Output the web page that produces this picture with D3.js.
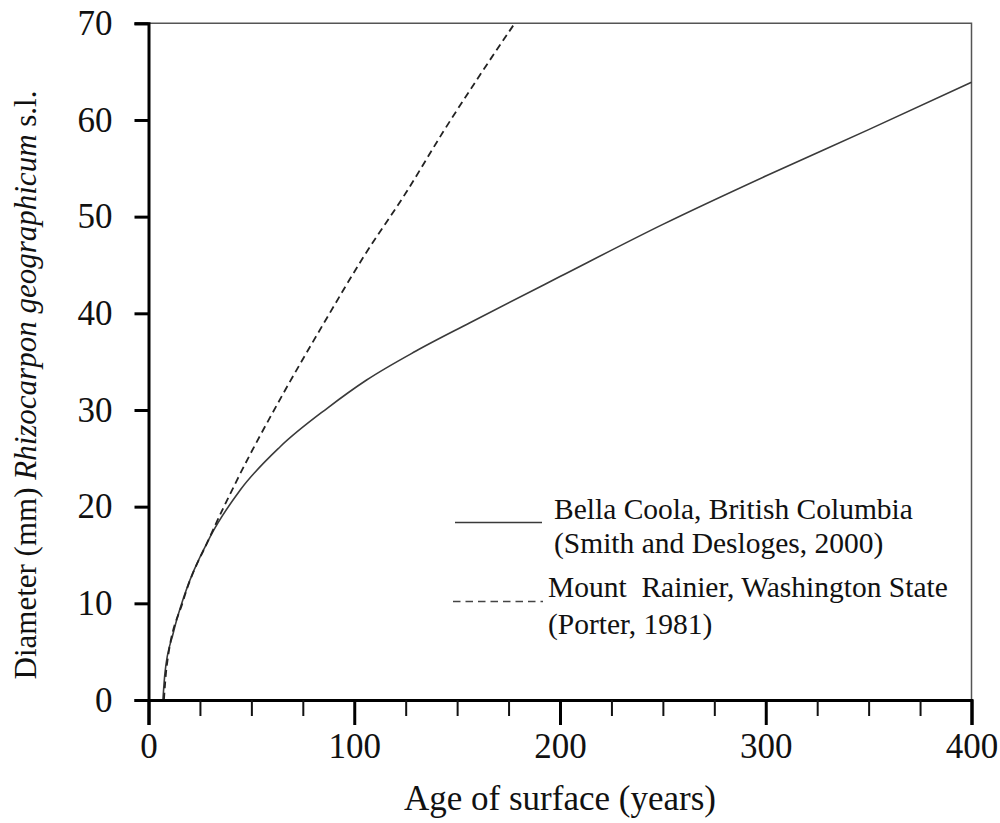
<!DOCTYPE html>
<html>
<head>
<meta charset="utf-8">
<script src="https://cdn.jsdelivr.net/npm/d3@7"></script>
<style>
  html, body { margin: 0; padding: 0; background: #fff; }
  svg { display: block; font-family: "Liberation Serif", "Times New Roman", serif; }
  .legend text { white-space: pre; }
</style>
</head>
<body>
<svg id="chart" width="1000" height="823"></svg>
<script>
// Lichen growth curves: thallus diameter against surface age
const bellaAge  = [7, 8, 12, 17.7, 30, 44.5, 64, 87, 106, 130, 156, 200, 250, 300, 350, 400];
const bellaDiam = [0, 2.8, 6.9, 11.0, 16.9, 21.7, 26.2, 30.2, 33.1, 36.1, 39.0, 43.8, 49.2, 54.2, 59.0, 63.9];

const rainierAge  = [7.5, 8.8, 16.9, 29.9, 42.9, 65.5, 85, 104.4, 125.5, 143.3, 160, 178];
const rainierDiam = [0, 3.4, 10.3, 16.9, 22.7, 31.7, 38.9, 45.8, 52.6, 58.8, 64.3, 70];

const xMajorTicks = [0, 100, 200, 300, 400];
const xMinorTicks = [25, 50, 75, 125, 150, 175, 225, 250, 275, 325, 350, 375];
const yTicks = [0, 10, 20, 30, 40, 50, 60, 70];

const legendLines = [
  ["Bella Coola, British Columbia", "(Smith and Desloges, 2000)"],
  ["Mount  Rainier, Washington State", "(Porter, 1981)"]
];

const svg = d3.select("#chart");
const m = { left: 148.5, top: 23.3, right: 28.5, bottom: 123 };
const W = 1000 - m.left - m.right;
const H = 823 - m.top - m.bottom;

const x = d3.scaleLinear().domain([0, 400]).range([0, W]);
const y = d3.scaleLinear().domain([0, 70]).range([H, 0]);

const g = svg.append("g").attr("transform", `translate(${m.left},${m.top})`);

// thin frame on top and right
g.append("path")
  .attr("d", `M0,${y(70)}H${x(400)}V${y(0)}`)
  .attr("fill", "none").attr("stroke", "#555").attr("stroke-width", 1.5);

// curves
const line = d3.line().x(d => x(d[0])).y(d => y(d[1])).curve(d3.curveMonotoneX);

g.append("path")
  .datum(bellaAge.map((a, i) => [a, bellaDiam[i]]))
  .attr("d", line)
  .attr("fill", "none").attr("stroke", "#3a3a3a").attr("stroke-width", 1.6);

g.append("path")
  .datum(rainierAge.map((a, i) => [a, rainierDiam[i]]))
  .attr("d", line)
  .attr("fill", "none").attr("stroke", "#222").attr("stroke-width", 1.8)
  .attr("stroke-dasharray", "7,4.5");

// x axis: major and minor ticks
const xAxis = g.append("g").attr("transform", `translate(0,${H})`)
  .call(d3.axisBottom(x).tickValues(xMajorTicks).tickSize(25).tickPadding(8).tickFormat(d3.format("d")));
xAxis.select(".domain").attr("stroke", "#000").attr("stroke-width", 3);
xAxis.selectAll(".tick line").attr("stroke", "#000").attr("stroke-width", 3);
xAxis.selectAll(".tick text").attr("font-size", 35).attr("fill", "#111")
  .attr("font-family", "Liberation Serif, serif");

const xMinor = g.append("g").attr("transform", `translate(0,${H})`)
  .call(d3.axisBottom(x).tickValues(xMinorTicks).tickSize(16).tickFormat(""));
xMinor.select(".domain").remove();
xMinor.selectAll(".tick line").attr("stroke", "#111").attr("stroke-width", 2);

// y axis
const yAxis = g.append("g")
  .call(d3.axisLeft(y).tickValues(yTicks).tickSize(14).tickPadding(22).tickFormat(d3.format("d")));
yAxis.select(".domain").attr("stroke", "#000").attr("stroke-width", 3);
yAxis.selectAll(".tick line").attr("stroke", "#000").attr("stroke-width", 3);
yAxis.selectAll(".tick text").attr("font-size", 35).attr("fill", "#111")
  .attr("font-family", "Liberation Serif, serif");

// axis titles
svg.append("text")
  .attr("x", m.left + x(200)).attr("y", 810)
  .attr("text-anchor", "middle").attr("font-size", 35).attr("fill", "#111")
  .text("Age of surface (years)");

const yt = svg.append("text")
  .attr("transform", "translate(36,385) rotate(-90)")
  .attr("text-anchor", "middle").attr("font-size", 31).attr("fill", "#111");
yt.append("tspan").text("Diameter (mm) ");
yt.append("tspan").attr("font-style", "italic").text("Rhizocarpon geographicum");
yt.append("tspan").text(" s.l.");

// legend
const lg = svg.append("g").attr("class", "legend");
lg.append("line").attr("x1", 455).attr("x2", 542).attr("y1", 522.5).attr("y2", 522.5)
  .attr("stroke", "#3a3a3a").attr("stroke-width", 1.6);
lg.append("line").attr("x1", 453).attr("x2", 543).attr("y1", 601.5).attr("y2", 601.5)
  .attr("stroke", "#444").attr("stroke-width", 1.6).attr("stroke-dasharray", "7.5,5");

const legendPos = [[554, 519, 553], [548, 597, 634]];
legendLines.forEach((lines, i) => {
  const [lx, y1, y2] = legendPos[i];
  lg.append("text").attr("x", lx).attr("y", y1).attr("font-size", 29.5).attr("fill", "#111").text(lines[0]);
  lg.append("text").attr("x", lx).attr("y", y2).attr("font-size", 29.5).attr("fill", "#111").text(lines[1]);
});
</script>
</body>
</html>
